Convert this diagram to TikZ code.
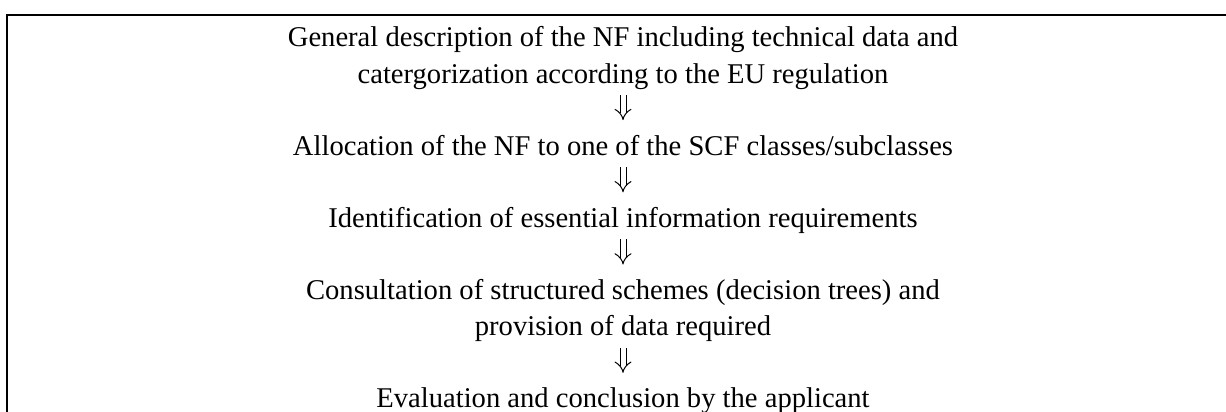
\documentclass[tikz,border=0pt]{standalone}
\usepackage{fontspec}
\setmainfont{Liberation Serif}
\usetikzlibrary{arrows.meta}

\begin{document}
\begin{tikzpicture}[x=1pt,y=1pt]
    \tikzset{
        step text/.style={inner sep=0pt, align=center, anchor=base,
            font=\fontsize{14.3}{18.05}\selectfont},
        % arrows run from baseline to baseline of the steps
        step arrow/.style={double, double distance=2.5pt, line width=0.5pt,
            -{Implies}, shorten <=6pt, shorten >=17.6pt},
    }
    \useasboundingbox (0,0) rectangle (613,206);
    % Only the left and top edges of the frame are shown.
    \draw[line width=0.8pt] (3.5,0) -- (3.5,198.5) -- (613,198.5);
    \node[step text] (describe) at (311.5,164.45)
        {General description of the NF including technical data and\\
         catergorization according to the EU regulation};
    \node[step text] (allocate) at (311.5,128.35)
        {Allocation of the NF to one of the SCF classes/subclasses};
    \node[step text] (identify) at (311.5,92.25)
        {Identification of essential information requirements};
    \node[step text] (consult) at (311.5,38.1)
        {Consultation of structured schemes (decision trees) and\\
         provision of data required};
    \node[step text] (evaluate) at (311.5,2)
        {Evaluation and conclusion by the applicant};
    \draw[step arrow] (describe.base) -- (allocate.base);
    \draw[step arrow] (allocate.base) -- (identify.base);
    \draw[step arrow] (identify.base) -- (consult.base |- 0,56.15);
    \draw[step arrow] (consult.base) -- (evaluate.base);
\end{tikzpicture}
\end{document}
